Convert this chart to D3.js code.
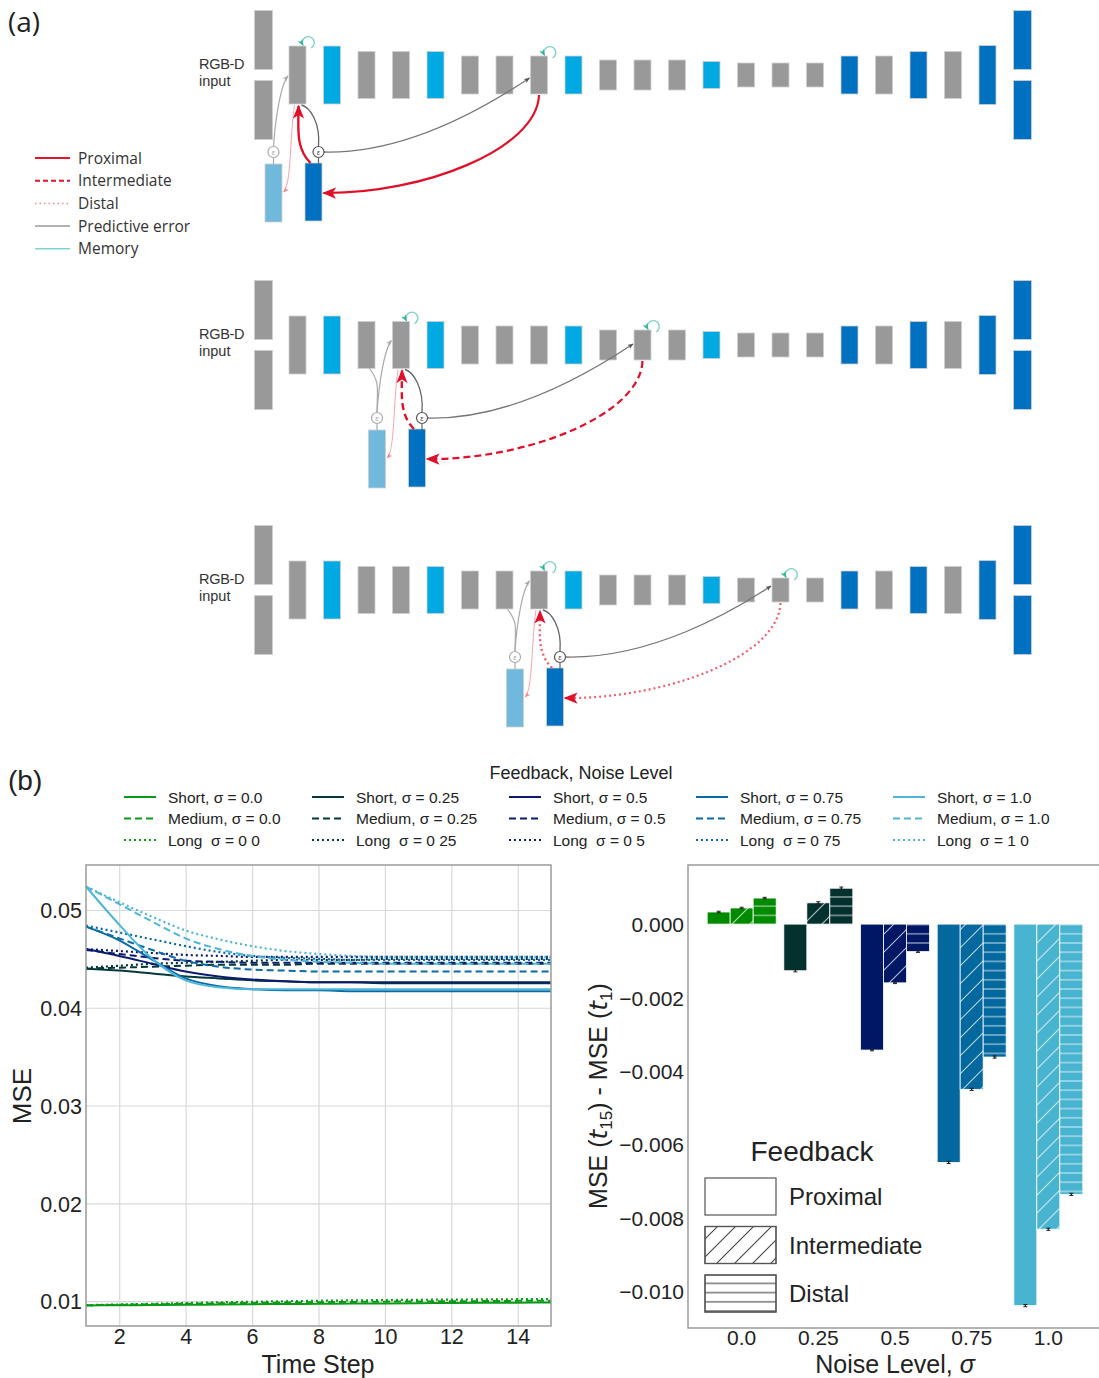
<!DOCTYPE html>
<html>
<head>
<meta charset="utf-8">
<style>
  body { margin: 0; background: #fff; }
  svg { display: block; }
  text { font-family: "Liberation Sans", Arial, sans-serif; fill: #222; }
  .diag text { font-family: "Open Sans", sans-serif; fill: #333; }
</style>
<script src="https://d3js.org/d3.v7.min.js"></script>
</head>
<body>
<svg width="1099" height="1378"></svg>
<script>
// ---------------- data: panel (a) network diagram ----------------
var blockTypes   = ["g","b","g","g","b","g","g","g","b","g","g","g","b","g","g","g","d","g","d","g","d"];
var blockHeights = [58, 58, 47, 47, 47, 38, 38, 38, 38, 30, 30, 30, 27, 24, 24, 24, 38, 38, 47, 47, 59];
var memoryIndex  = [1, 4, 8];          // block that gets the feedback, per row
var diagLegend   = ["Proximal", "Intermediate", "Distal", "Predictive error", "Memory"];

// ---------------- data: panel (b) line chart ----------------
var timeSteps  = [1, 2, 3, 4, 5, 6, 7, 8, 9, 10, 11, 12, 13, 14, 15];
var timeTicks  = [2, 4, 6, 8, 10, 12, 14];
var mseTicks   = [0.01, 0.02, 0.03, 0.04, 0.05];
var noiseLevels   = ["0.0", "0.25", "0.5", "0.75", "1.0"];
var feedbackTypes = ["Short", "Medium", "Long"];
var noiseColors   = ["#0b9a16", "#03393a", "#0b1c6e", "#0a6aa8", "#4db6d8"];

var mse00Short  = [0.00955,0.00957,0.00960,0.00962,0.00965,0.00968,0.00970,0.00972,0.00974,0.00976,0.00978,0.00980,0.00982,0.00984,0.00986];
var mse00Medium = [0.00957,0.00962,0.00967,0.00972,0.00977,0.00981,0.00985,0.00988,0.00991,0.00994,0.00996,0.00998,0.01000,0.01002,0.01003];
var mse00Long   = [0.00958,0.00965,0.00972,0.00980,0.00987,0.00993,0.00998,0.01003,0.01007,0.01010,0.01013,0.01015,0.01017,0.01019,0.01020];

var mse025Short  = [0.0440,0.0438,0.0435,0.0432,0.0430,0.0428,0.0427,0.0426,0.0426,0.0425,0.0425,0.0425,0.0425,0.0425,0.0425];
var mse025Medium = [0.0440,0.0441,0.0442,0.0443,0.0444,0.0444,0.0444,0.0445,0.0445,0.0445,0.0445,0.0445,0.0445,0.0445,0.0445];
var mse025Long   = [0.0441,0.0443,0.0445,0.0446,0.0447,0.0448,0.0449,0.0449,0.0449,0.0450,0.0450,0.0450,0.0450,0.0450,0.0450];

var mse05Short  = [0.0460,0.0453,0.0445,0.0437,0.0432,0.0429,0.0427,0.0426,0.0426,0.0426,0.0426,0.0426,0.0426,0.0426,0.0426];
var mse05Medium = [0.0459,0.0455,0.0451,0.0448,0.0447,0.0446,0.0446,0.0446,0.0446,0.0446,0.0446,0.0446,0.0446,0.0446,0.0446];
var mse05Long   = [0.0460,0.0458,0.0456,0.0454,0.0453,0.0452,0.0452,0.0452,0.0452,0.0452,0.0452,0.0452,0.0452,0.0452,0.0452];

var mse075Short  = [0.0483,0.0469,0.0449,0.0430,0.0422,0.0419,0.0418,0.0418,0.0417,0.0417,0.0417,0.0417,0.0417,0.0417,0.0417];
var mse075Medium = [0.0483,0.0471,0.0459,0.0448,0.0442,0.0439,0.0438,0.0437,0.0437,0.0437,0.0437,0.0437,0.0437,0.0437,0.0437];
var mse075Long   = [0.0484,0.0477,0.0470,0.0463,0.0457,0.0453,0.0451,0.0450,0.0449,0.0449,0.0449,0.0449,0.0449,0.0449,0.0449];

var mse10Short  = [0.0524,0.0485,0.0450,0.0428,0.0421,0.0419,0.0419,0.0419,0.0419,0.0419,0.0419,0.0419,0.0419,0.0419,0.0419];
var mse10Medium = [0.0524,0.0506,0.0488,0.0471,0.0460,0.0453,0.0449,0.0447,0.0446,0.0445,0.0445,0.0445,0.0445,0.0445,0.0445];
var mse10Long   = [0.0524,0.0508,0.0493,0.0479,0.0470,0.0463,0.0458,0.0455,0.0453,0.0452,0.0452,0.0452,0.0452,0.0452,0.0452];

var mseSeries = [
  [mse00Short,  mse00Medium,  mse00Long],
  [mse025Short, mse025Medium, mse025Long],
  [mse05Short,  mse05Medium,  mse05Long],
  [mse075Short, mse075Medium, mse075Long],
  [mse10Short,  mse10Medium,  mse10Long]
];

// ---------------- data: panel (b) bar chart ----------------
var barFeedback     = ["Proximal", "Intermediate", "Distal"];
var barColors       = ["#008a00", "#03312e", "#001766", "#02689e", "#48b4d0"];
var barProximal     = [0.00033, -0.00127, -0.00343, -0.00649, -0.01039];
var barIntermediate = [0.00044,  0.00058, -0.00160, -0.00450, -0.00831];
var barDistal       = [0.00071,  0.00098, -0.00075, -0.00362, -0.00736];
var barError        = [0.00002, 0.00003, 0.00002, 0.00003, 0.00003];
var diffTicks       = [0, -0.002, -0.004, -0.006, -0.008, -0.010];

var svg = d3.select("svg");
var defs = svg.append("defs");

// arrow heads
function marker(id, color, w, h) {
  defs.append("marker")
    .attr("id", id)
    .attr("viewBox", "0 0 10 8")
    .attr("refX", 9).attr("refY", 4)
    .attr("markerWidth", w).attr("markerHeight", h)
    .attr("markerUnits", "userSpaceOnUse")
    .attr("orient", "auto")
    .append("path").attr("d", "M0,0 L10,4 L0,8 L2.5,4 Z").attr("fill", color);
}
marker("arRed", "#e0102a", 14, 12);
marker("arPink", "#f08a94", 6, 5);
marker("arGray", "#555", 6, 5);
marker("arLGray", "#aaa", 6, 5);
marker("arTeal", "#2fb89c", 7, 6);

// ================= panel (a) =================
var diag = svg.append("g").attr("class", "diag");
diag.append("text").attr("x", 8).attr("y", 32).style("font-size", "28px").style("fill", "#222").text("(a)");

var bx = d3.scaleLinear().domain([0, 22]).range([263, 1022]);
var rowCenter = [75, 345, 590];
var fbTop = [164, 430, 669];
var blockW = 17;
var typeColor = { g: "#999999", b: "#00a9e2", d: "#0070c0" };
var redColor = ["#e0102a", "#e0102a", "#f0606c"];
var rowDash = [null, "7,4", "2,3"];

rowCenter.forEach(function (cy, r) {
  var g = diag.append("g");
  var k = memoryIndex[r], j = k + 7;
  function h(i) { return blockHeights[i - 1]; }

  // split input / output blocks
  [0, 22].forEach(function (i) {
    [cy - 64.5, cy + 5.5].forEach(function (y0) {
      g.append("rect").attr("x", bx(i) - blockW / 2).attr("y", y0)
        .attr("width", blockW + 1).attr("height", 59)
        .attr("fill", i === 0 ? typeColor.g : typeColor.d)
        .attr("stroke", "#cfcfcf").attr("stroke-width", 0.8);
    });
  });
  // encoder / decoder blocks
  blockTypes.forEach(function (t, n) {
    var i = n + 1;
    g.append("rect").attr("x", bx(i) - blockW / 2).attr("y", cy - h(i) / 2)
      .attr("width", blockW).attr("height", h(i))
      .attr("fill", typeColor[t]).attr("stroke", "#cfcfcf").attr("stroke-width", 0.8);
  });

  g.append("text").attr("x", 199).attr("y", cy - 6).style("font-family", "Liberation Sans")
    .style("font-size", "14.5px").style("letter-spacing", "-0.3px").text("RGB-D");
  g.append("text").attr("x", 199).attr("y", cy + 10.5).style("font-family", "Liberation Sans")
    .style("font-size", "14.5px").text("input");

  var xk = bx(k), xkL = xk - blockW / 2, ykB = cy + h(k) / 2, ykT = cy - h(k) / 2;
  var xj = bx(j), xjL = xj - blockW / 2, yjB = cy + h(j) / 2, yjT = cy - h(j) / 2;
  var yF = fbTop[r];
  var LBx = xk - 24, DBx = xk + 16;
  var LCx = LBx, DCx = DBx + 5, Cy = yF - 12;

  // feedback units
  g.append("rect").attr("x", LBx - blockW / 2).attr("y", yF).attr("width", blockW).attr("height", 58)
    .attr("fill", "#70b8dc").attr("stroke", "#cfcfcf").attr("stroke-width", 0.8);
  g.append("rect").attr("x", DBx - blockW / 2).attr("y", yF - 1).attr("width", blockW).attr("height", 58)
    .attr("fill", "#0070c0").attr("stroke", "#cfcfcf").attr("stroke-width", 0.8);

  // predictive error links
  g.append("path").attr("d", "M" + (DCx + 5.5) + "," + Cy + " C" + (DCx + 90) + "," + (Cy + 2) + " " + (xjL - 40) + "," + (yjB + 10) + " " + (xjL - 1) + "," + (yjB - 16))
    .attr("fill", "none").attr("stroke", "#777").attr("stroke-width", 1.3).attr("marker-end", "url(#arGray)");
  g.append("path").attr("d", "M" + DCx + "," + (Cy - 5.5) + " C" + (DCx + 2) + "," + (Cy - 30) + " " + (xk + 12) + "," + (ykB + 3) + " " + (xk + 4) + "," + (ykB + 1))
    .attr("fill", "none").attr("stroke", "#666").attr("stroke-width", 1.3);
  g.append("path").attr("d", "M" + LCx + "," + (Cy - 5.5) + " C" + (LCx + 2) + "," + (Cy - 35) + " " + (xkL - 8) + "," + (ykB - 20) + " " + (xkL - 1) + "," + (ykB - 28))
    .attr("fill", "none").attr("stroke", "#aaa").attr("stroke-width", 1.2).attr("marker-end", "url(#arLGray)");
  if (r > 0) {
    var xp = bx(k - 1), ypB = cy + h(k - 1) / 2;
    g.append("path").attr("d", "M" + (xp + 3) + "," + ypB + " C" + (xp + 14) + "," + (ypB + 15) + " " + LCx + "," + (Cy - 30) + " " + LCx + "," + (Cy - 5.5))
      .attr("fill", "none").attr("stroke", "#aaa").attr("stroke-width", 1.2);
  }
  [LCx, DCx].forEach(function (cx, n) {
    g.append("line").attr("x1", cx).attr("x2", cx).attr("y1", Cy + 5.5).attr("y2", yF)
      .attr("stroke", n ? "#666" : "#aaa").attr("stroke-width", 1.2);
    g.append("circle").attr("cx", cx).attr("cy", Cy).attr("r", 5.5)
      .attr("fill", "#fff").attr("stroke", n ? "#555" : "#aaa").attr("stroke-width", 1.2);
    g.append("text").attr("x", cx).attr("y", Cy + 2.5).attr("text-anchor", "middle")
      .style("font-size", "7px").style("fill", n ? "#333" : "#999").text("ε");
  });

  // feedback links
  g.append("path").attr("d", "M" + (xk - 3) + "," + (ykB + 1) + " C" + (xk - 8) + "," + (ykB + 35) + " " + (xk - 6) + "," + (yF + 20) + " " + (LBx + 10) + "," + (yF + 28))
    .attr("fill", "none").attr("stroke", "#f4a5ac").attr("stroke-width", 1).attr("marker-end", "url(#arPink)");
  g.append("path").attr("d", "M" + (DBx - 3) + "," + (yF - 1) + " C" + (DBx - 18) + "," + (yF - 16) + " " + (xk + 1) + "," + (ykB + 25) + " " + (xk + 1) + "," + (ykB + 2))
    .attr("fill", "none").attr("stroke", redColor[r]).attr("stroke-width", 2.4)
    .attr("stroke-dasharray", rowDash[r]).attr("marker-end", "url(#arRed)");
  g.append("path").attr("d", "M" + xj + "," + (yjB + 1) + " C" + (xj - 2) + "," + (yjB + 55) + " " + (DBx + 110) + "," + (yF + 30) + " " + (DBx + 10) + "," + (yF + 29))
    .attr("fill", "none").attr("stroke", redColor[r]).attr("stroke-width", 2.2)
    .attr("stroke-dasharray", rowDash[r]).attr("marker-end", "url(#arRed)");

  // memory loops
  [[xk, ykT], [xj, yjT]].forEach(function (p) {
    var cx = p[0] + blockW / 2 + 2, cyy = p[1] - 3;
    g.append("path").attr("d", "M" + (cx + 3) + "," + (cyy + 5) + " A6,6 0 1 0 " + (cx - 5) + "," + (cyy + 2.5))
      .attr("fill", "none").attr("stroke", "#7fd3c8").attr("stroke-width", 1.4).attr("marker-end", "url(#arTeal)");
  });
});

// legend (a)
var legA = diag.append("g");
var legAStyle = [
  { c: "#e3152b", w: 2, d: null },
  { c: "#e3152b", w: 2, d: "5,3" },
  { c: "#f08a94", w: 1.5, d: "1.5,3" },
  { c: "#9a9a9a", w: 1.5, d: null },
  { c: "#7fd3d0", w: 1.5, d: null }
];
diagLegend.forEach(function (name, i) {
  var y = 158 + i * 22.7;
  legA.append("line").attr("x1", 35).attr("x2", 70).attr("y1", y).attr("y2", y)
    .attr("stroke", legAStyle[i].c).attr("stroke-width", legAStyle[i].w).attr("stroke-dasharray", legAStyle[i].d);
  legA.append("text").attr("x", 78).attr("y", y + 5.5).style("font-size", "15.5px").text(name);
});

// ================= panel (b) =================
svg.append("text").attr("x", 8).attr("y", 790).style("font-size", "28px").text("(b)");

// legend
var legB = svg.append("g");
legB.append("text").attr("x", 581).attr("y", 779).attr("text-anchor", "middle").style("font-size", "18px").text("Feedback, Noise Level");
var legColX = [124, 312, 509, 696, 893];
var dashes = [null, "7,4", "2,3"];
noiseLevels.forEach(function (lvl, i) {
  feedbackTypes.forEach(function (fb, f) {
    var y = 797 + f * 21.5;
    legB.append("line").attr("x1", legColX[i]).attr("x2", legColX[i] + 32).attr("y1", y).attr("y2", y)
      .attr("stroke", noiseColors[i]).attr("stroke-width", 2).attr("stroke-dasharray", dashes[f]);
    var label = f < 2 ? fb + ", σ = " + lvl : fb + "  σ = " + lvl.replace(".", " ");
    legB.append("text").attr("x", legColX[i] + 44).attr("y", y + 5.5).style("font-size", "15.5px")
      .style("white-space", "pre").text(label);
  });
});

// ---- line chart ----
var lx = d3.scaleLinear().domain([1, 15]).range([86, 551]);
var ly = d3.scaleLinear().domain([0.00745, 0.0546]).range([1326, 865]);
var lc = svg.append("g");

var gx = lc.append("g").attr("transform", "translate(0,1326)")
  .call(d3.axisBottom(lx).tickValues(timeTicks).tickSize(-461).tickPadding(3).tickFormat(d3.format("d")));
var gy = lc.append("g").attr("transform", "translate(86,0)")
  .call(d3.axisLeft(ly).tickValues(mseTicks).tickSize(-465).tickPadding(4).tickFormat(d3.format(".2f")));
[gx, gy].forEach(function (a) {
  a.select(".domain").remove();
  a.selectAll(".tick line").attr("stroke", "#d9d9d9").attr("stroke-width", 1.2);
  a.selectAll(".tick text").style("font-size", "21.5px").style("fill", "#222").attr("font-family", null);
});
gy.selectAll(".tick text").attr("dy", "0.36em");

var line = d3.line().x(function (d, i) { return lx(timeSteps[i]); }).y(function (d) { return ly(d); }).curve(d3.curveMonotoneX);
mseSeries.forEach(function (group, i) {
  group.forEach(function (vals, f) {
    lc.append("path").datum(vals).attr("d", line)
      .attr("fill", "none").attr("stroke", noiseColors[i])
      .attr("stroke-width", f === 2 ? 2.2 : 2).attr("stroke-dasharray", dashes[f]);
  });
});
lc.append("rect").attr("x", 86).attr("y", 865).attr("width", 465).attr("height", 461)
  .attr("fill", "none").attr("stroke", "#9a9a9a").attr("stroke-width", 1.5);

lc.append("text").attr("x", 318).attr("y", 1373).attr("text-anchor", "middle").style("font-size", "25px").text("Time Step");
lc.append("text").attr("transform", "translate(31,1096) rotate(-90)").attr("text-anchor", "middle").style("font-size", "26px").text("MSE");

// ---- bar chart ----
var xB = d3.scaleBand().domain(noiseLevels).range([688, 1102]).paddingInner(0.1).paddingOuter(0.25);
var xs = d3.scaleBand().domain(barFeedback).range([0, xB.bandwidth()]);
var yB = d3.scaleLinear().domain([-0.0110, 0.00161]).range([1328, 865]);
var bc = svg.append("g");

// hatch patterns (white on bars, dark in legend)
function hatch(id, kind, color) {
  var p = defs.append("pattern").attr("id", id).attr("patternUnits", "userSpaceOnUse");
  if (kind === "diag") {
    p.attr("width", 18).attr("height", 18);
    p.append("path").attr("d", "M-2,2 L2,-2 M0,18 L18,0 M16,20 L20,16");
  } else {
    p.attr("width", 10).attr("height", 9.2);
    p.append("path").attr("d", "M0,4.6 L10,4.6");
  }
  p.select("path").attr("stroke", color).attr("stroke-width", 1.1).attr("fill", "none");
}
hatch("hDiagW", "diag", "rgba(255,255,255,0.7)");
hatch("hHorW", "hor", "rgba(255,255,255,0.7)");
hatch("hDiagK", "diag", "#444");
hatch("hHorK", "hor", "#444");
var hatchW = [null, "url(#hDiagW)", "url(#hHorW)"];
var hatchK = [null, "url(#hDiagK)", "url(#hHorK)"];

var barValues = [barProximal, barIntermediate, barDistal];
noiseLevels.forEach(function (lvl, i) {
  barFeedback.forEach(function (fb, f) {
    var v = barValues[f][i];
    var x0 = xB(lvl) + xs(fb), w = xs.bandwidth();
    var y0 = yB(Math.max(0, v)), hh = Math.abs(yB(v) - yB(0));
    bc.append("rect").attr("x", x0).attr("y", y0).attr("width", w).attr("height", hh)
      .attr("fill", barColors[i]).attr("stroke", "#fff").attr("stroke-width", 0.8);
    if (hatchW[f]) {
      bc.append("rect").attr("x", x0).attr("y", y0).attr("width", w).attr("height", hh).attr("fill", hatchW[f]);
    }
    var cx = x0 + w / 2, e = barError[i];
    bc.append("line").attr("x1", cx).attr("x2", cx).attr("y1", yB(v - e)).attr("y2", yB(v + e)).attr("stroke", "#222").attr("stroke-width", 1.3);
    [v - e, v + e].forEach(function (t) {
      bc.append("line").attr("x1", cx - 2).attr("x2", cx + 2).attr("y1", yB(t)).attr("y2", yB(t)).attr("stroke", "#222").attr("stroke-width", 1);
    });
  });
});

var bxAxis = bc.append("g").attr("transform", "translate(0,1328)").call(d3.axisBottom(xB).tickSize(0).tickPadding(2));
var byAxis = bc.append("g").attr("transform", "translate(688,0)").call(d3.axisLeft(yB).tickValues(diffTicks).tickSize(0).tickPadding(4).tickFormat(d3.format(".3f")));
[bxAxis, byAxis].forEach(function (a) {
  a.select(".domain").remove();
  a.selectAll(".tick text").style("font-size", "21px").style("fill", "#222").attr("font-family", null);
});
byAxis.selectAll(".tick text").attr("dy", "0.36em");
bc.append("rect").attr("x", 688).attr("y", 865).attr("width", 414).attr("height", 463)
  .attr("fill", "none").attr("stroke", "#9a9a9a").attr("stroke-width", 1.5);

// axis titles
var xt = bc.append("text").attr("x", 895).attr("y", 1373).attr("text-anchor", "middle").style("font-size", "25px");
xt.append("tspan").text("Noise Level, ");
xt.append("tspan").style("font-style", "italic").text("σ");

var yt = bc.append("text").attr("transform", "translate(607,1096) rotate(-90)").attr("text-anchor", "middle").style("font-size", "25px");
yt.append("tspan").text("MSE (");
yt.append("tspan").style("font-style", "italic").style("font-family", "DejaVu Sans").text("t");
yt.append("tspan").attr("dy", 5).style("font-size", "17px").text("15");
yt.append("tspan").attr("dy", -5).text(") - MSE (");
yt.append("tspan").style("font-style", "italic").style("font-family", "DejaVu Sans").text("t");
yt.append("tspan").attr("dy", 5).style("font-size", "17px").text("1");
yt.append("tspan").attr("dy", -5).text(")");

// legend (bar chart)
var legC = bc.append("g");
legC.append("text").attr("x", 812).attr("y", 1161).attr("text-anchor", "middle").style("font-size", "28px").text("Feedback");
barFeedback.forEach(function (fb, f) {
  var y = 1178 + f * 48.5;
  legC.append("rect").attr("x", 705).attr("y", y).attr("width", 71).attr("height", 37)
    .attr("fill", "#fff").attr("stroke", "#555").attr("stroke-width", 1.2);
  if (hatchK[f]) {
    legC.append("rect").attr("x", 705).attr("y", y).attr("width", 71).attr("height", 37)
      .attr("fill", hatchK[f]).attr("stroke", "#555").attr("stroke-width", 1.2);
  }
  legC.append("text").attr("x", 789).attr("y", y + 27).style("font-size", "24px").text(fb);
});
</script>
</body>
</html>
